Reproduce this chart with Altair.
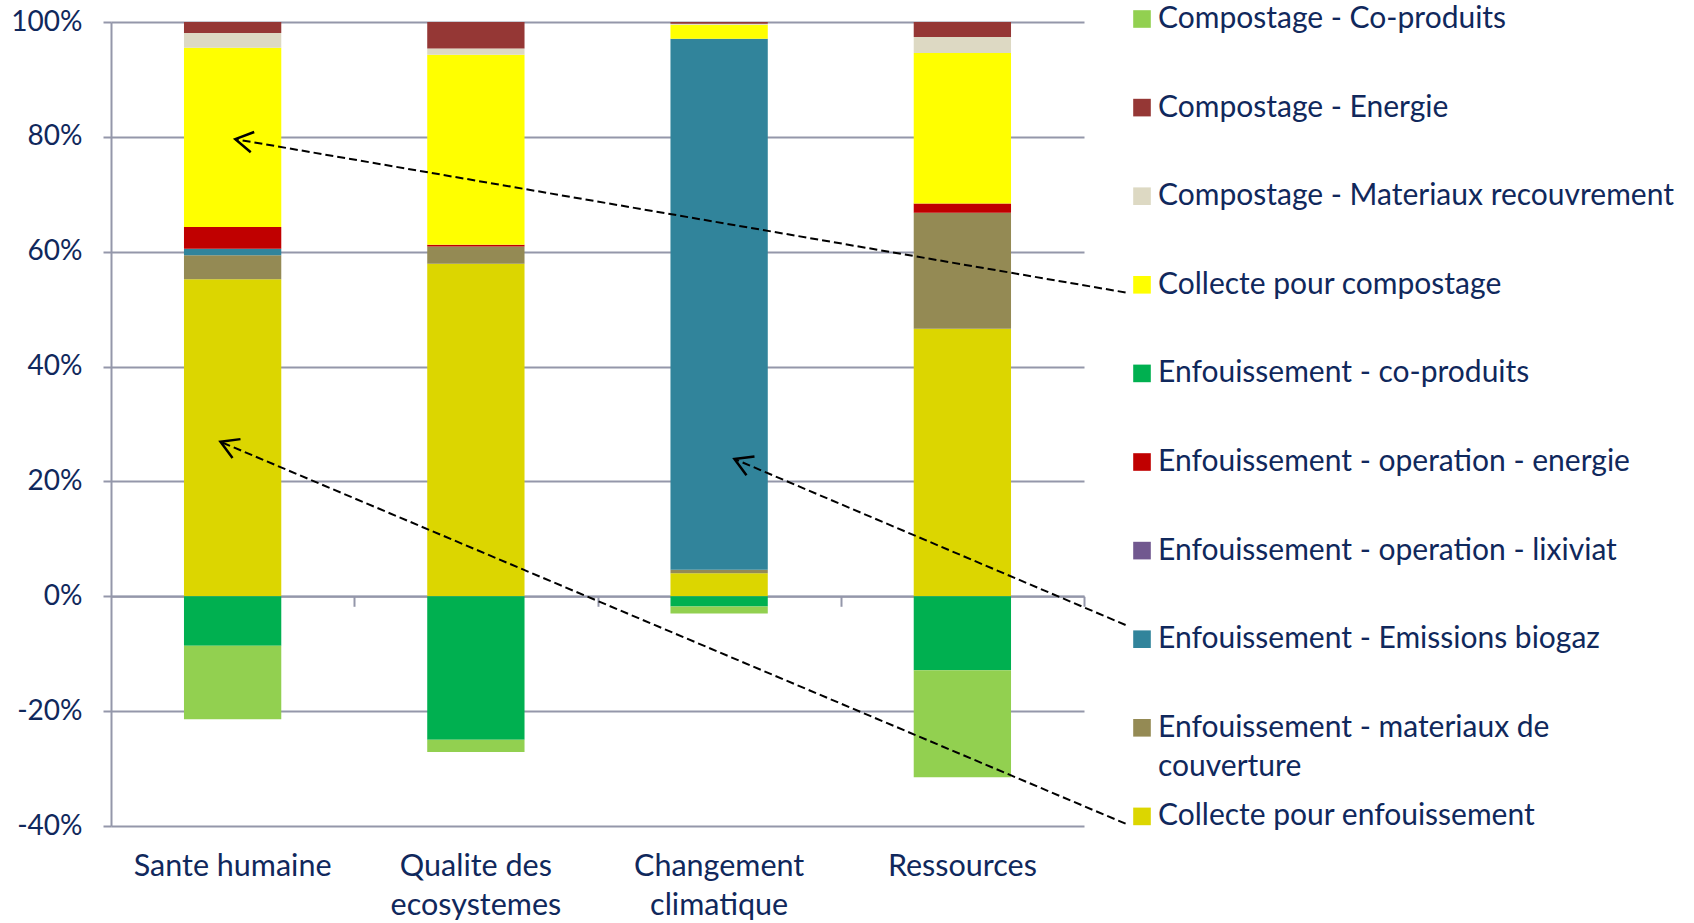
import math
import altair as alt
import pandas as pd

# Impact categories (x axis); "\n" marks where a label wraps
categories = ["Sante humaine", "Qualite des\necosystemes", "Changement\nclimatique", "Ressources"]

# Contribution series, listed from the bottom of the stack upwards
series = [
    "Collecte pour enfouissement",
    "Enfouissement - materiaux de couverture",
    "Enfouissement - Emissions biogaz",
    "Enfouissement - operation - lixiviat",
    "Enfouissement - operation - energie",
    "Enfouissement - co-produits",
    "Collecte pour compostage",
    "Compostage - Materiaux recouvrement",
    "Compostage - Energie",
    "Compostage - Co-produits",
]
colors = [
    "#DCD600", "#948A54", "#31849B", "#71588F", "#C00000",
    "#00B050", "#FFFF00", "#DDD9C3", "#953735", "#92D050",
]

# Relative contributions (%) per category, same order as `categories`
collecte_enfouissement = [55.2, 57.9, 4.0, 46.6]
enf_materiaux_couverture = [4.2, 3.0, 0.6, 20.2]
enf_emissions_biogaz = [1.1, 0.0, 92.5, 0.0]
enf_operation_lixiviat = [0.0, 0.0, 0.0, 0.0]
enf_operation_energie = [3.8, 0.3, 0.0, 1.6]
enf_coproduits = [-8.6, -25.0, -1.8, -12.9]
collecte_compostage = [31.2, 33.1, 2.4, 26.2]
comp_materiaux_recouvrement = [2.6, 1.1, 0.2, 2.8]
comp_energie = [1.9, 4.6, 0.3, 2.6]
comp_coproduits = [-12.8, -2.1, -1.2, -18.6]

values = [
    collecte_enfouissement, enf_materiaux_couverture, enf_emissions_biogaz,
    enf_operation_lixiviat, enf_operation_energie, enf_coproduits,
    collecte_compostage, comp_materiaux_recouvrement, comp_energie, comp_coproduits,
]

y_ticks = [-40, -20, 0, 20, 40, 60, 80, 100]

# Dashed call-outs from legend entries to bar segments
# (x in category units: 0..4 spans the four bands; y in %)
arrow_x0 = [4.171, 4.171, 4.171]
arrow_y0 = [52.9, -5.0, -39.6]
arrow_x1 = [0.511, 2.563, 0.450]
arrow_y1 = [79.6, 23.9, 26.9]

W, H = 973, 804
TEXT = "#10285C"
GRID = "#9497AA"
FONT = "Lato"

rows = []
for i, (name, vals) in enumerate(zip(series, values)):
    for cat, v in zip(categories, vals):
        if v != 0:
            rows.append({"category": cat, "series": name, "value": v, "rank": i})
df = pd.DataFrame(rows)

legend_order = series[::-1]
legend_colors = colors[::-1]

px_x = W / 4.0
px_y = H / (y_ticks[-1] - y_ticks[0])
angles = []
for x0, y0, x1, y1 in zip(arrow_x0, arrow_y0, arrow_x1, arrow_y1):
    dx = (x1 - x0) * px_x
    dy = -(y1 - y0) * px_y
    angles.append(math.degrees(math.atan2(dy, dx)) % 360)
arrows = pd.DataFrame({"x0": arrow_x0, "y0": arrow_y0, "x1": arrow_x1, "y1": arrow_y1, "angle": angles})

y_scale = alt.Scale(domain=[y_ticks[0], y_ticks[-1]], nice=False, zero=False)
q_scale = alt.Scale(domain=[0, 4], nice=False, zero=False)

wrap_expr = (
    "datum.label == 'Enfouissement - materiaux de couverture'"
    " ? ['Enfouissement - materiaux de', 'couverture'] : datum.label"
)

bars = alt.Chart(df).mark_bar().encode(
    x=alt.X(
        "category:N",
        sort=categories,
        scale=alt.Scale(paddingInner=0.6, paddingOuter=0.3),
        axis=alt.Axis(
            orient="bottom", title=None, domain=False, ticks=False, tickSize=0,
            labelAngle=0, labelExpr="split(datum.label, '\\n')",
            labelFontSize=30.5, labelColor=TEXT, labelPadding=25.5, labelLineHeight=39,
            labelFont=FONT, labelLimit=400,
        ),
    ),
    y=alt.Y(
        "value:Q",
        stack="zero",
        scale=y_scale,
        axis=alt.Axis(
            title=None, values=y_ticks, labelExpr="datum.value + '%'",
            grid=True, gridColor=GRID, gridWidth=2,
            domainColor=GRID, domainWidth=2,
            tickColor=GRID, tickWidth=2, tickSize=8,
            labelFontSize=28, labelColor=TEXT, labelPadding=21, labelFont=FONT,
        ),
    ),
    color=alt.Color(
        "series:N",
        scale=alt.Scale(domain=legend_order, range=legend_colors),
        legend=alt.Legend(
            orient="none", legendX=1016, legendY=-18, title=None,
            symbolType="square", symbolSize=310, symbolStrokeWidth=0, symbolOpacity=1,
            labelFontSize=30, labelColor=TEXT, labelLimit=700, labelOffset=1,
            labelFont=FONT, rowPadding=19.6, gridAlign="all", labelExpr=wrap_expr,
        ),
    ),
    order=alt.Order("rank:Q", sort="ascending"),
)

lines = alt.Chart(arrows).mark_rule(
    strokeDash=[8, 4], strokeWidth=2, color="black"
).encode(
    x=alt.X(
        "x0:Q", scale=q_scale,
        axis=alt.Axis(
            orient="bottom", offset=-(0 - y_ticks[0]) * px_y, title=None,
            values=[1, 2, 3, 4], labels=False, grid=False,
            domainColor=GRID, domainWidth=2, tickColor=GRID, tickWidth=2, tickSize=10,
        ),
    ),
    x2="x1:Q",
    y=alt.Y("y0:Q", scale=y_scale, title=None),
    y2="y1:Q",
)

heads = alt.Chart(arrows).mark_point(
    shape="M -1.7 -1 L 0 0 L -1.7 1", size=420, filled=False,
    strokeWidth=2.5, color="black", opacity=1,
).encode(
    x=alt.X("x1:Q", scale=q_scale, axis=None),
    y=alt.Y("y1:Q", scale=y_scale, title=None),
    angle=alt.Angle("angle:Q", scale=None),
)

chart = (
    alt.layer(bars, lines, heads)
    .resolve_scale(x="independent")
    .resolve_axis(x="independent")
    .properties(
        width=W, height=H,
        autosize=alt.AutoSizeParams(type="none"),
        padding={"left": 111, "top": 22, "right": 610, "bottom": 97},
        background="white",
    )
    .configure(style={"guide-label": {"lineHeight": 39}})
    .configure_view(stroke=None)
)

chart.save("out.html", embed_options={"renderer": "svg", "actions": False})
